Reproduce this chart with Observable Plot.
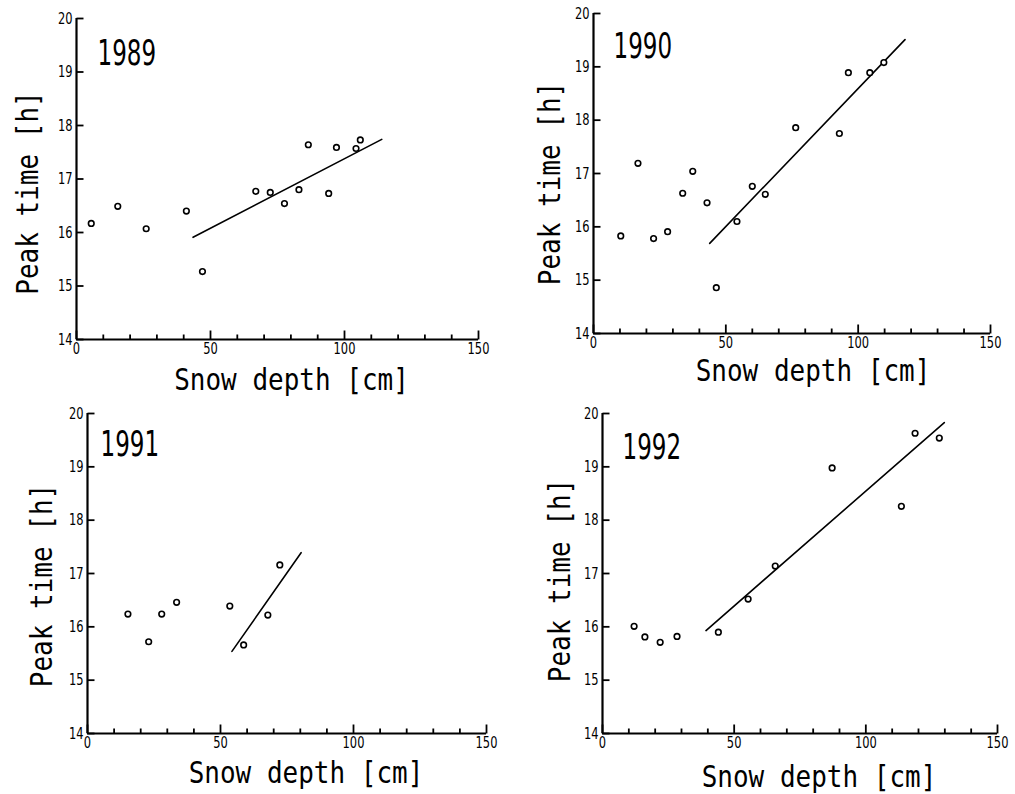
<!DOCTYPE html>
<html><head><meta charset="utf-8">
<script src="https://cdn.jsdelivr.net/npm/d3@7"></script>
<script src="https://cdn.jsdelivr.net/npm/@observablehq/plot@0.6"></script>
<style>
html,body{margin:0;padding:0;background:#fff;}
#root{position:relative;width:1015px;height:794px;overflow:hidden;background:#fff;}
#root svg{position:absolute;overflow:visible;}
</style></head><body><div id="root"></div>
<script>
// ---- data ----
const xMajorTicks = [0, 50, 100, 150];
const xMinorTicks = [10, 20, 30, 40, 60, 70, 80, 90, 110, 120, 130, 140];
const yTicks = [14, 15, 16, 17, 18, 19, 20];
const xLabel = "Snow depth [cm]";
const yLabel = "Peak time [h]";
const years = ["1989", "1990", "1991", "1992"];

const depth1989 = [5.5, 15.4, 26.0, 41.0, 47.0, 66.9, 72.3, 77.6, 83.0, 86.5, 94.1, 97.0, 104.3, 105.9];
const peak1989  = [16.17, 16.49, 16.07, 16.40, 15.27, 16.77, 16.75, 16.54, 16.80, 17.64, 16.73, 17.59, 17.57, 17.73];
const fitDepth1989 = [43.5, 113.9];
const fitPeak1989  = [15.91, 17.74];

const depth1990 = [10.3, 16.8, 22.7, 28.0, 33.7, 37.5, 42.9, 46.4, 54.2, 60.0, 64.9, 76.4, 92.9, 96.3, 104.4, 109.7];
const peak1990  = [15.83, 17.19, 15.78, 15.91, 16.63, 17.04, 16.45, 14.86, 16.10, 16.76, 16.61, 17.86, 17.75, 18.89, 18.89, 19.08];
const fitDepth1990 = [43.9, 117.7];
const fitPeak1990  = [15.69, 19.51];

const depth1991 = [15.2, 23.0, 27.9, 33.5, 53.5, 58.7, 67.8, 72.3];
const peak1991  = [16.24, 15.72, 16.24, 16.46, 16.39, 15.66, 16.22, 17.16];
const fitDepth1991 = [54.3, 80.3];
const fitPeak1991  = [15.54, 17.39];

const depth1992 = [12.0, 16.1, 21.9, 28.3, 44.0, 55.3, 65.6, 87.2, 113.5, 118.7, 127.9];
const peak1992  = [16.01, 15.81, 15.71, 15.82, 15.90, 16.52, 17.14, 18.98, 18.26, 19.63, 19.54];
const fitDepth1992 = [39.3, 129.8];
const fitPeak1992  = [15.93, 19.83];

// ---- layout ----
const narrowFont = "'DejaVu Sans Condensed', 'Liberation Sans Narrow', 'Arial Narrow', sans-serif";
const monoFont = "'DejaVu Sans Mono', 'Liberation Mono', monospace";

const layouts = [
  {left: 0,   top: 0,   w: 500, h: 395, ml: 76,  mr: 22, mt: 18, mb: 56, yrx: 21, yry: 35, xdx: 14, xdy: 41, ydx: -48, ydy: 14},
  {left: 500, top: 0,   w: 515, h: 395, ml: 93,  mr: 25, mt: 13, mb: 62, yrx: 20, yry: 33, xdx: 21, xdy: 38, ydx: -43, ydy: 10},
  {left: 0,   top: 395, w: 500, h: 399, ml: 87,  mr: 14, mt: 18, mb: 61, yrx: 13, yry: 31, xdx: 19, xdy: 40, ydx: -45, ydy: 12},
  {left: 500, top: 395, w: 515, h: 399, ml: 102, mr: 18, mt: 18, mb: 61, yrx: 20, yry: 34, xdx: 19, xdy: 44, ydx: -42, ydy: 7}
];

const series = [
  [depth1989, peak1989, fitDepth1989, fitPeak1989],
  [depth1990, peak1990, fitDepth1990, fitPeak1990],
  [depth1991, peak1991, fitDepth1991, fitPeak1991],
  [depth1992, peak1992, fitDepth1992, fitPeak1992]
];

// narrow/tall plotter-like lettering: scale a text about its own anchor point
function scaleText(t, sx, sy) {
  const isNum = v => v != null && /^-?[\d.]+$/.test(v.trim());
  const xa = t.getAttribute("x"), ya = t.getAttribute("y");
  let tx = 0, ty = 0;
  if (isNum(xa)) { tx = +xa; t.removeAttribute("x"); }
  if (isNum(ya)) { ty = +ya; t.removeAttribute("y"); }
  const tr = t.getAttribute("transform") || "";
  t.setAttribute("transform", `${tr} translate(${tx},${ty}) scale(${sx},${sy})`);
}

function panel(year, depth, peak, fitDepth, fitPeak, L) {
  const pts = depth.map((d, i) => ({depth: d, peak: peak[i]}));
  const fit = fitDepth.map((d, i) => ({depth: d, peak: fitPeak[i]}));
  const pw = L.w - L.ml - L.mr;   // frame width (px)
  const ph = L.h - L.mt - L.mb;   // frame height (px)
  const kx = 150 / pw, ky = 6 / ph; // px -> data units, for tick lengths
  const svg = Plot.plot({
    width: L.w, height: L.h,
    marginLeft: L.ml, marginRight: L.mr, marginTop: L.mt, marginBottom: L.mb,
    style: {background: "transparent", fontFamily: narrowFont, fontSize: "15px", color: "#000", overflow: "visible"},
    x: {domain: [0, 150]},
    y: {domain: [14, 20]},
    marks: [
      // inward tick marks
      Plot.link(xMinorTicks, {x1: d => d, x2: d => d, y1: () => 14, y2: () => 14 + 5 * ky, stroke: "#000", strokeWidth: 1.8}),
      Plot.link(xMajorTicks, {x1: d => d, x2: d => d, y1: () => 14, y2: () => 14 + 9 * ky, stroke: "#000", strokeWidth: 1.8}),
      Plot.link(yTicks, {y1: d => d, y2: d => d, x1: () => 0, x2: () => 7 * kx, stroke: "#000", strokeWidth: 1.8}),
      // tick labels
      Plot.axisX({ticks: xMajorTicks, tickSize: 0, tickPadding: 3, tickFormat: d3.format("d"), label: null, fontSize: 15}),
      Plot.axisY({ticks: yTicks, tickSize: 0, tickPadding: 4, tickFormat: d3.format("d"), label: null, fontSize: 15}),
      // axis lines
      Plot.ruleX([0], {strokeWidth: 2.2}),
      Plot.ruleY([14], {strokeWidth: 2.2}),
      // data
      Plot.line(fit, {x: "depth", y: "peak", stroke: "#000", strokeWidth: 1.6}),
      Plot.dot(pts, {x: "depth", y: "peak", r: 2.8, stroke: "#000", fill: "#fff", strokeWidth: 1.6}),
      // texts
      Plot.text([year], {text: d => d, frameAnchor: "top-left", dx: L.yrx, dy: L.yry, textAnchor: "start", lineAnchor: "middle", fontSize: 32, fontFamily: narrowFont}),
      Plot.text([xLabel], {text: d => d, frameAnchor: "bottom", dx: L.xdx, dy: L.xdy, textAnchor: "middle", lineAnchor: "middle", fontSize: 26, fontFamily: monoFont}),
      Plot.text([yLabel], {text: d => d, frameAnchor: "left", rotate: -90, dx: L.ydx, dy: L.ydy, textAnchor: "middle", lineAnchor: "middle", fontSize: 26, fontFamily: monoFont})
    ]
  });
  svg.style.left = L.left + "px";
  svg.style.top = L.top + "px";
  svg.querySelectorAll("text").forEach(t => {
    const s = t.textContent;
    if (s === year) scaleText(t, 0.8, 1.12);
    else if (s === xLabel || s === yLabel) scaleText(t, 1, 1.14);
    else if (/^\d+$/.test(s)) scaleText(t, 0.85, 1.1);
  });
  return svg;
}

const root = document.getElementById("root");
years.forEach((yr, i) => {
  const [d, p, fd, fp] = series[i];
  root.appendChild(panel(yr, d, p, fd, fp, layouts[i]));
});
</script>
</body></html>
